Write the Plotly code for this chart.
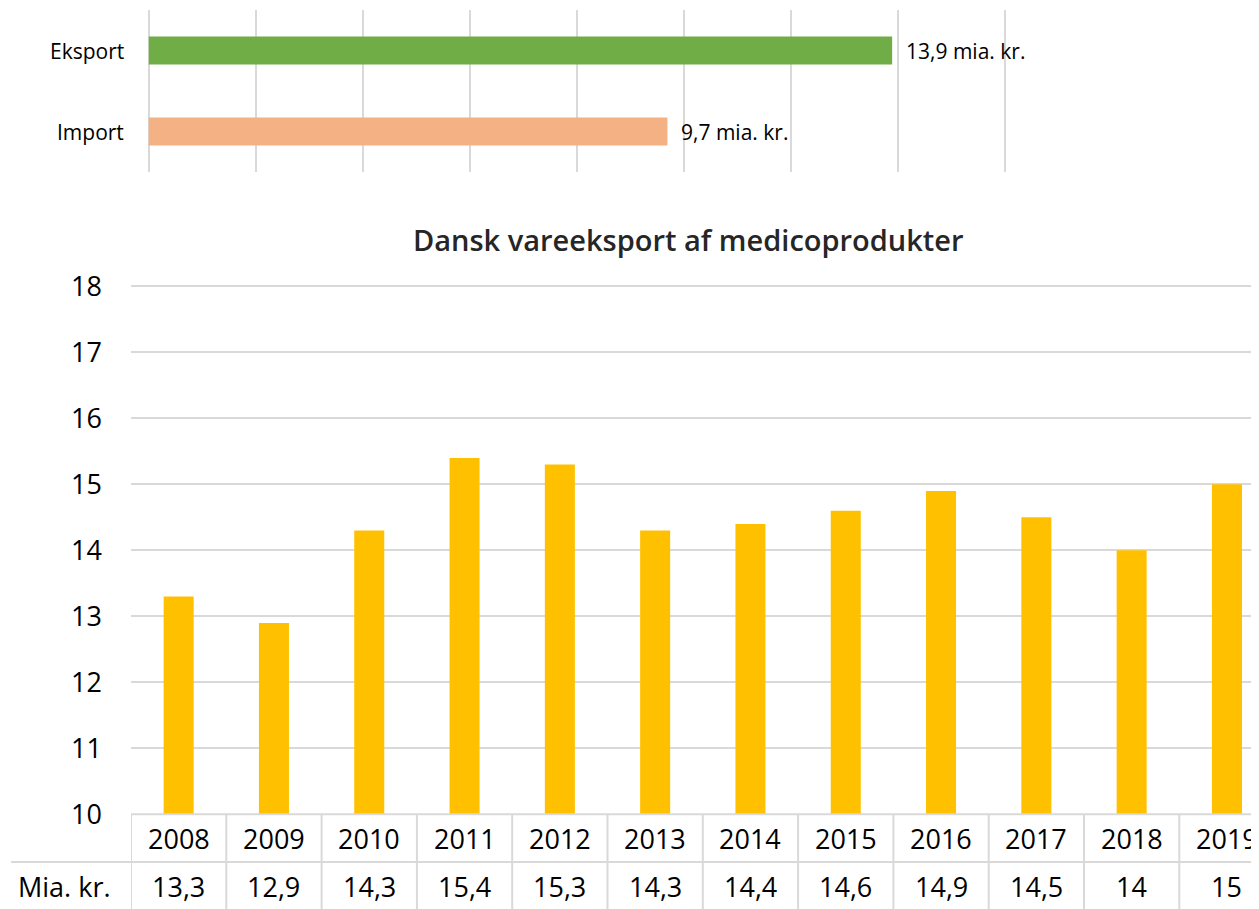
import plotly.graph_objects as go

# ---------------- data ----------------
flow_labels = ["Eksport", "Import"]
flow_values = [13.9, 9.7]
flow_texts = ["13,9 mia. kr.", "9,7 mia. kr."]
flow_colors = ["#70AD47", "#F4B183"]

years = ["2008", "2009", "2010", "2011", "2012", "2013",
         "2014", "2015", "2016", "2017", "2018", "2019"]
export_values = [13.3, 12.9, 14.3, 15.4, 15.3, 14.3, 14.4, 14.6, 14.9, 14.5, 14, 15]
value_labels = ["13,3", "12,9", "14,3", "15,4", "15,3", "14,3",
                "14,4", "14,6", "14,9", "14,5", "14", "15"]
chart_title = "Dansk vareeksport af medicoprodukter"
table_row_label = "Mia. kr."
y_ticks = [10, 11, 12, 13, 14, 15, 16, 17, 18]

# ---------------- layout helpers ----------------
OFF = 8                      # page body margin
W, H = 1259 - OFF, 909 - OFF
def fx(px):
    return (px - OFF) / W
def fy(py):
    return 1 - (py - OFF) / H

GRID = "#D9D9D9"
TXT = "#000000"
FONT = "Open Sans"

# top chart geometry (viewport px)
TOP_X0, TOP_UNIT = 148.5, 53.5
TOP_XMAX = 16.1
# bottom chart geometry
BOT_Y10, BOT_UNIT = 814.3, 66.0
BOT_YMAX = 18.04
BOT_X0, CAT_W = 131.0, 95.3
BOT_XRIGHT = OFF + W
cat_span = (BOT_XRIGHT - BOT_X0) / CAT_W

fig = go.Figure()

fig.add_trace(go.Bar(
    y=flow_labels, x=flow_values, orientation="h",
    marker=dict(color=flow_colors, line=dict(width=0)),
    width=0.346, xaxis="x", yaxis="y", showlegend=False, hoverinfo="skip",
))

fig.add_trace(go.Bar(
    x=years, y=export_values,
    marker=dict(color="#FFC000", line=dict(width=0)),
    width=0.315, xaxis="x2", yaxis="y2", showlegend=False, hoverinfo="skip",
))

annotations = []
for lab in flow_labels:
    annotations.append(dict(
        text=lab, xref="paper", x=fx(126), yref="y", y=lab,
        xanchor="right", yanchor="middle", showarrow=False,
        font=dict(family=FONT, size=21, color=TXT)))
for lab, val, t in zip(flow_labels, flow_values, flow_texts):
    annotations.append(dict(
        text=t, xref="x", x=val, yref="y", y=lab, xshift=12,
        xanchor="left", yanchor="middle", showarrow=False,
        font=dict(family=FONT, size=21, color=TXT)))

annotations.append(dict(
    text=chart_title, xref="paper", x=fx(688), yref="paper", y=fy(239),
    xanchor="center", yanchor="middle", showarrow=False,
    font=dict(family=FONT, size=29, color="#262626", weight=600)))

for i, (yr, vl) in enumerate(zip(years, value_labels)):
    annotations.append(dict(
        text=yr, xref="x2", x=i, yref="paper", y=fy(838),
        xanchor="center", yanchor="middle", showarrow=False,
        font=dict(family=FONT, size=27, color=TXT)))
    annotations.append(dict(
        text=vl, xref="x2", x=i, yref="paper", y=fy(886),
        xanchor="center", yanchor="middle", showarrow=False,
        font=dict(family=FONT, size=27, color=TXT)))
annotations.append(dict(
    text=table_row_label, xref="paper", x=fx(64.5), yref="paper", y=fy(886),
    xanchor="center", yanchor="middle", showarrow=False,
    font=dict(family=FONT, size=27, color=TXT)))

shapes = []
shapes.append(dict(type="line", xref="paper", yref="paper",
                   x0=fx(BOT_X0), x1=1, y0=fy(BOT_Y10), y1=fy(BOT_Y10),
                   line=dict(color=GRID, width=2)))
shapes.append(dict(type="line", xref="paper", yref="paper",
                   x0=fx(11), x1=1, y0=fy(862), y1=fy(862),
                   line=dict(color=GRID, width=2)))
for i in range(len(years) + 1):
    shapes.append(dict(type="line", xref="x2", yref="paper",
                       x0=i - 0.5, x1=i - 0.5, y0=0, y1=fy(BOT_Y10),
                       line=dict(color=GRID, width=2)))

fig.update_layout(
    width=W, height=H, autosize=False,
    margin=dict(l=0, r=0, t=0, b=0, pad=0),
    paper_bgcolor="white", plot_bgcolor="white",
    font=dict(family=FONT, color=TXT),
    xaxis=dict(domain=[fx(TOP_X0), fx(TOP_X0 + TOP_XMAX * TOP_UNIT)],
               range=[0, TOP_XMAX], dtick=2, tick0=0,
               showgrid=True, gridcolor=GRID, gridwidth=2,
               zeroline=True, zerolinecolor=GRID, zerolinewidth=2,
               showticklabels=False, showline=False, fixedrange=True,
               automargin=False),
    yaxis=dict(domain=[fy(172), fy(10)], type="category",
               categoryorder="array", categoryarray=flow_labels[::-1],
               showgrid=False, showticklabels=False, showline=False,
               zeroline=False, fixedrange=True, automargin=False),
    xaxis2=dict(domain=[fx(BOT_X0), 1], range=[-0.5, -0.5 + cat_span], type="category",
                anchor="y2", showgrid=False, showticklabels=False,
                showline=False, zeroline=False, fixedrange=True,
                automargin=False),
    yaxis2=dict(domain=[fy(BOT_Y10), fy(BOT_Y10 - (BOT_YMAX - 10) * BOT_UNIT)],
                range=[10, BOT_YMAX], tickvals=y_ticks, anchor="x2",
                showgrid=True, gridcolor=GRID, gridwidth=2,
                zeroline=False, showline=False,
                tickfont=dict(family=FONT, size=27, color=TXT),
                ticks="", ticklabelstandoff=28, fixedrange=True,
                automargin=False),
    annotations=annotations,
    shapes=shapes,
)

fig.write_html("out.html")
